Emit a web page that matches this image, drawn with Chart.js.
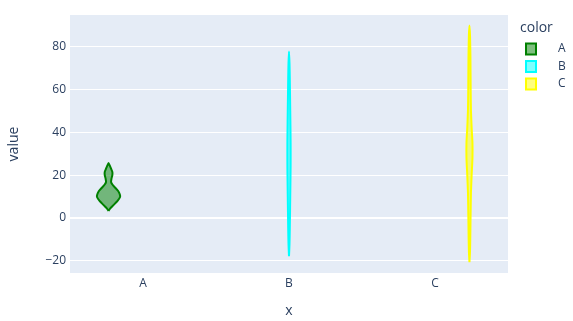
<!DOCTYPE html>
<html>
<head>
<meta charset="utf-8">
<script src="https://cdn.jsdelivr.net/npm/chart.js@4"></script>
<style>
  html, body { margin: 0; padding: 0; background: #fff; }
  #wrap { width: 573px; height: 321px; position: relative; }
</style>
</head>
<body>
<div id="wrap"><canvas id="c" width="573" height="321"></canvas></div>
<script>
// ---- data ----
const categories = ['A', 'B', 'C'];
const yTicks = [-20, 0, 20, 40, 60, 80];

// Violin profiles: value grid and (relative) density at each value
const valuesA  = [3.3, 4.5, 6, 8, 9.8, 11, 12.5, 14, 15.5, 16.8, 18.5, 20, 21.5, 23, 24.5, 25.7];
const densityA = [0, 0.15, 0.42, 0.78, 1.0, 0.98, 0.85, 0.6, 0.35, 0.22, 0.26, 0.33, 0.33, 0.22, 0.1, 0];

const valuesB  = [-17.8, -12, -5, 5, 15, 25, 35, 45, 55, 65, 72, 77.6];
const densityB = [0, 0.045, 0.07, 0.095, 0.12, 0.14, 0.14, 0.12, 0.095, 0.07, 0.045, 0];

const valuesC  = [-20.6, -16, -10, 0, 12, 20, 28, 35, 42, 50, 60, 75, 85, 89.7];
const densityC = [0, 0.045, 0.07, 0.095, 0.13, 0.19, 0.26, 0.26, 0.19, 0.13, 0.105, 0.085, 0.05, 0];

const seriesNames = ['A', 'B', 'C'];
const seriesCategory = [0, 1, 2];
const seriesValues = [valuesA, valuesB, valuesC];
const seriesDensity = [densityA, densityB, densityC];

// ---- styling ----
const lineColors = ['#008000', '#00FFFF', '#FFFF00'];
const fillColors = ['rgba(0,128,0,0.5)', 'rgba(0,255,255,0.5)', 'rgba(255,255,0,0.5)'];
const groupOffsets = [-0.236, 0, 0.236];
const maxHalfWidth = 0.079;
const FONT = '"Open Sans", "Liberation Sans", sans-serif';
const TXT = '#2a3f5f';

function violinPoints(i) {
  const c = seriesCategory[i] + groupOffsets[i];
  const v = seriesValues[i], d = seriesDensity[i];
  const pts = [];
  for (let k = 0; k < v.length; k++) pts.push({x: c + d[k] * maxHalfWidth, y: v[k]});
  for (let k = v.length - 2; k >= 0; k--) pts.push({x: c - d[k] * maxHalfWidth, y: v[k]});
  return pts;
}

const datasets = seriesNames.map((n, i) => ({
  label: n,
  data: violinPoints(i),
  showLine: true,
  fill: 'shape',
  backgroundColor: fillColors[i],
  borderColor: lineColors[i],
  borderWidth: 2,
  pointRadius: 0,
  tension: 0.2,
  borderJoinStyle: 'round'
}));

const bgPlugin = {
  id: 'bg',
  beforeDraw(chart) {
    const {ctx, chartArea: a} = chart;
    ctx.save();
    ctx.fillStyle = '#E5ECF6';
    ctx.fillRect(a.left, a.top, a.right - a.left, a.bottom - a.top);
    ctx.restore();
  },
  afterDraw(chart) {
    const ctx = chart.ctx;
    ctx.save();
    ctx.fillStyle = TXT;
    // axis titles
    ctx.font = '14px ' + FONT;
    ctx.textAlign = 'center';
    ctx.textBaseline = 'middle';
    ctx.fillText('x', 289, 311);
    ctx.save();
    ctx.translate(14, 144);
    ctx.rotate(-Math.PI / 2);
    ctx.fillText('value', 0, 0);
    ctx.restore();
    // legend
    ctx.textAlign = 'left';
    ctx.fillText('color', 520, 28);
    ctx.font = '12px ' + FONT;
    const ys = [49, 66.5, 84];
    seriesNames.forEach((n, i) => {
      const y = ys[i];
      ctx.fillStyle = fillColors[i];
      ctx.fillRect(526, y - 5.5, 10, 11);
      ctx.strokeStyle = lineColors[i];
      ctx.lineWidth = 2;
      ctx.strokeRect(526, y - 5.5, 10, 11);
      ctx.fillStyle = TXT;
      ctx.fillText(n, 558, y);
    });
    ctx.restore();
  }
};

new Chart(document.getElementById('c'), {
  type: 'scatter',
  data: { datasets },
  plugins: [bgPlugin],
  options: {
    responsive: false,
    animation: false,
    layout: { padding: { left: 0, top: 15, right: 65, bottom: 0 } },
    plugins: { legend: { display: false }, tooltip: { enabled: false } },
    scales: {
      x: {
        type: 'linear',
        min: -0.5, max: 2.5,
        afterBuildTicks(s) { s.ticks = categories.map((c, i) => ({value: i})); },
        afterFit(s) { s.height = 48; },
        ticks: {
          callback: (v) => categories[v] ?? '',
          color: TXT, font: { family: FONT, size: 12 }, padding: 3, maxRotation: 0
        },
        grid: { display: false, drawTicks: false },
        border: { display: false }
      },
      y: {
        min: -25.6, max: 94.6,
        afterBuildTicks(s) { s.ticks = yTicks.map(v => ({value: v})); },
        afterFit(s) { s.width = 70; },
        ticks: {
          callback: (v) => (v < 0 ? '\u2212' + Math.abs(v) : String(v)),
          color: TXT, font: { family: FONT, size: 12 }, padding: 4
        },
        grid: {
          color: '#ffffff',
          lineWidth: (c) => (c.tick && c.tick.value === 0 ? 2 : 1),
          drawTicks: false
        },
        border: { display: false }
      }
    }
  }
});
</script>
</body>
</html>
